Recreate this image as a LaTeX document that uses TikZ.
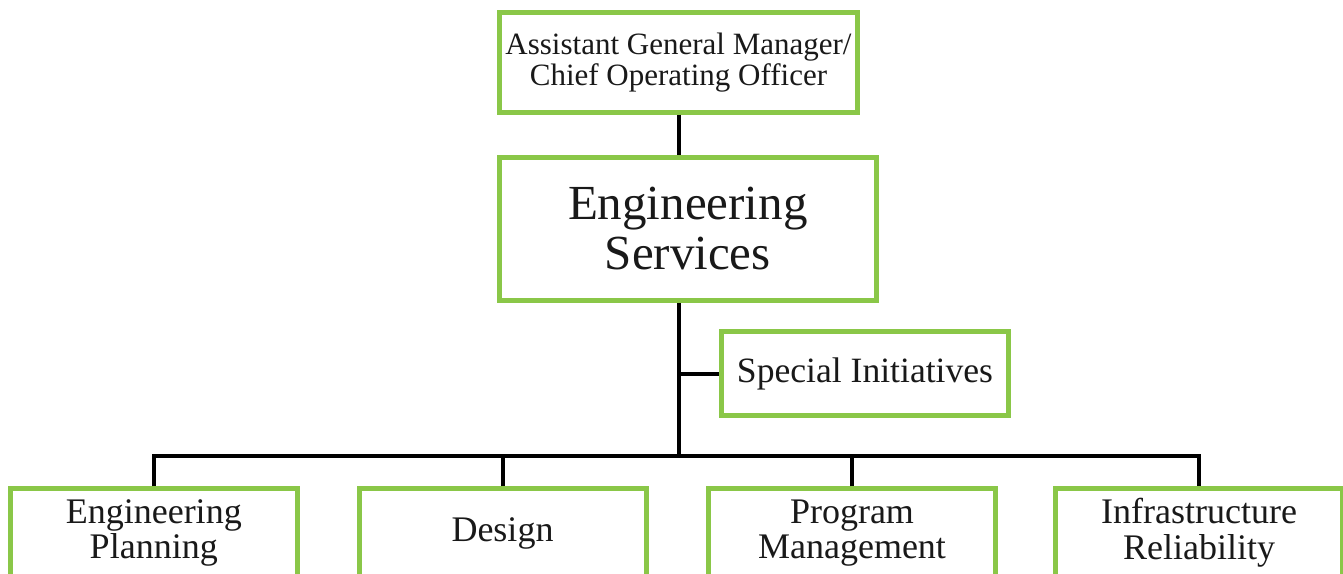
\documentclass[tikz,border=0pt]{standalone}
\usepackage{fontspec}
\setmainfont{Liberation Serif}
\definecolor{boxgreen}{RGB}{138,199,72}
\definecolor{inkgray}{RGB}{25,25,25}

\begin{document}
\begin{tikzpicture}
 [x=0.5pt,y=-0.5pt,
   every node/.style={draw=boxgreen,line width=2.5pt,fill=white,text=inkgray,align=center,inner sep=0pt},
   unit/.style={minimum width=143.5pt,minimum height=44.25pt,font=\fontsize{18}{17.8}\selectfont},
   link/.style={draw=black,line width=2pt}]
  \useasboundingbox (0,0) rectangle (1343,573);
  \clip (0,0) rectangle (1343,573);
  \node[minimum width=179pt,minimum height=49.75pt,font=\fontsize{15.5}{15.5}\selectfont] (agm) at (678.5,62.25) {Assistant General Manager/\\Chief Operating Officer};
  \node[minimum width=188.75pt,minimum height=71.5pt,font=\fontsize{24.5}{25}\selectfont] (es) at (687.75,229) {Engineering\\Services};
  \node[minimum width=143.5pt,minimum height=42pt,font=\fontsize{17.8}{17.8}\selectfont] (si) at (865,373.5) {Special Initiatives};
  \node[unit] (ep) at (153.75,533) {Engineering\\Planning};
  \node[unit] (design) at (502.5,533) {Design};
  \node[unit] (pm) at (852,533) {Program\\Management};
  \node[unit] (ir) at (1199,533) {Infrastructure\\Reliability};
  \coordinate (bus) at (679,456);
  \draw[link] (agm.south) -- (agm.south |- es.north);
  \draw[link] (bus |- es.south) -- (bus);
  \draw[link] (bus |- si.west) -- (si.west);
  \draw[link] (ep.north) |- (bus) -| (ir.north);
  \draw[link] (design.north) -- (design.north |- bus);
  \draw[link] (pm.north) -- (pm.north |- bus);
\end{tikzpicture}
\end{document}
